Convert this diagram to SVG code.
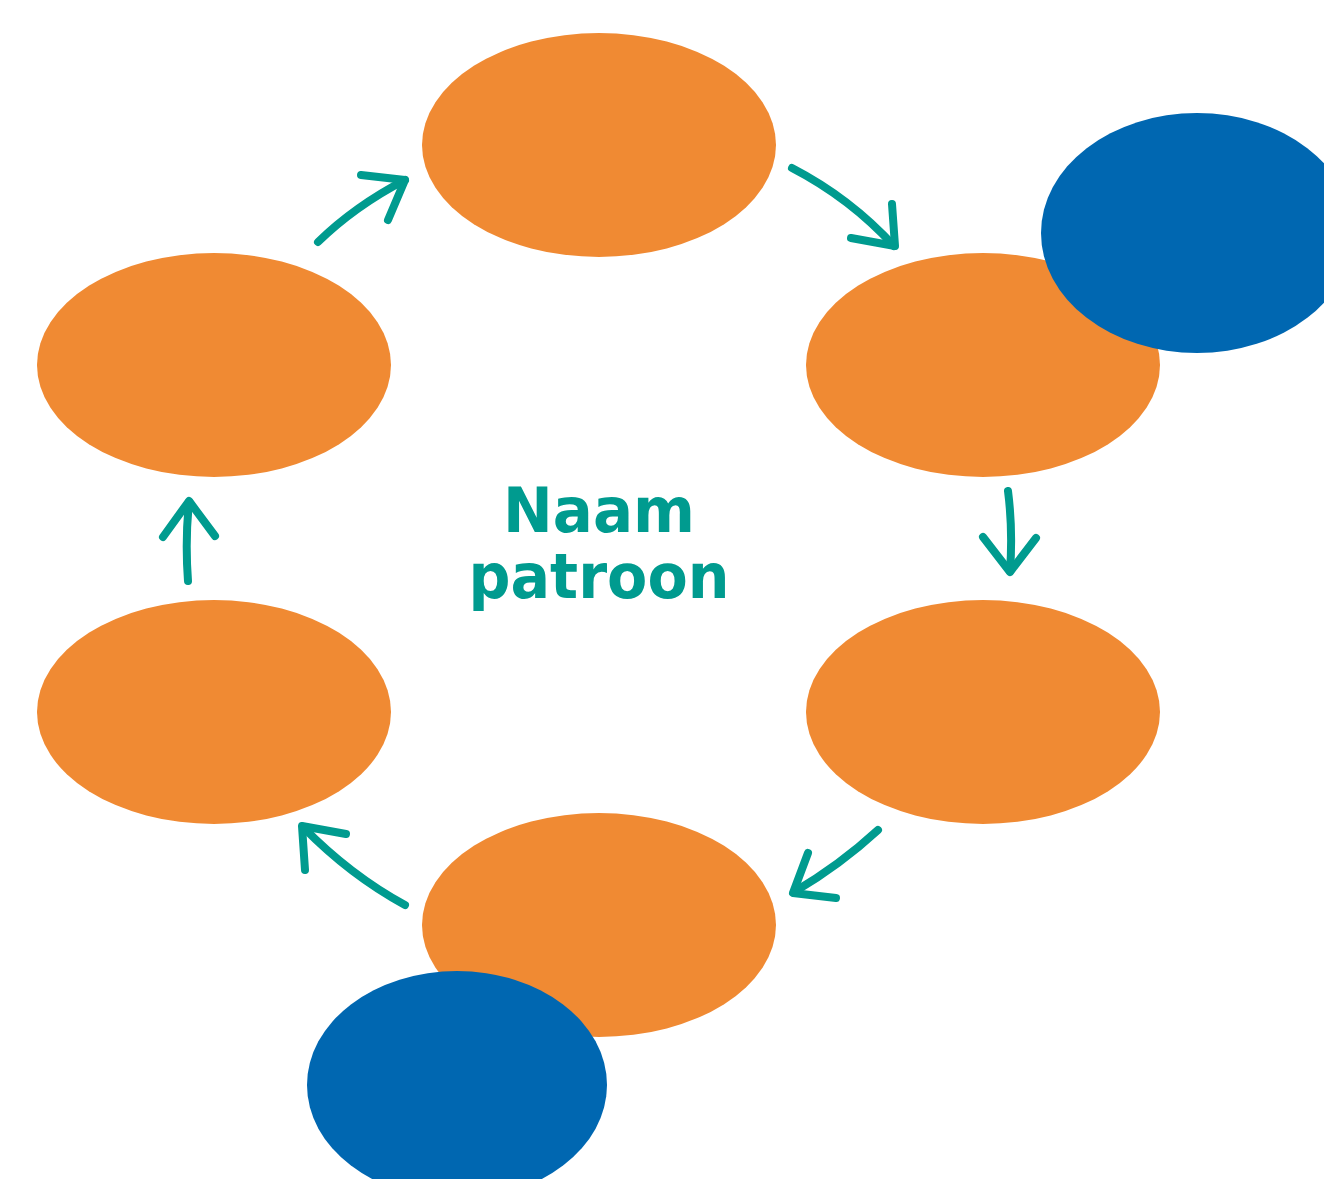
<svg xmlns="http://www.w3.org/2000/svg" width="1324" height="1179" viewBox="0 0 1324 1179">
<style>
.node{fill:#F08A33}
.blue{fill:#0067B1}
.arr{fill:none;stroke:#009B8F;stroke-width:8;stroke-linecap:round;stroke-linejoin:round}
.lbl{font-family:"DejaVu Sans","Liberation Sans",sans-serif;font-weight:bold;font-size:62px;fill:#009B8F;text-anchor:middle}
</style>
<rect width="1324" height="1179" fill="#FFFFFF"/>
<g id="node-top"><ellipse class="node" cx="599" cy="145" rx="177" ry="112"/></g>
<g id="node-right-upper"><ellipse class="node" cx="983" cy="365" rx="177" ry="112"/></g>
<g id="node-right-lower"><ellipse class="node" cx="983" cy="712" rx="177" ry="112"/></g>
<g id="node-bottom"><ellipse class="node" cx="599" cy="925" rx="177" ry="112"/></g>
<g id="node-left-lower"><ellipse class="node" cx="214" cy="712" rx="177" ry="112"/></g>
<g id="node-left-upper"><ellipse class="node" cx="214" cy="365" rx="177" ry="112"/></g>
<g id="blue-top-right"><ellipse class="blue" cx="1197" cy="233" rx="156" ry="120"/></g>
<g id="blue-bottom"><ellipse class="blue" cx="457" cy="1085" rx="150" ry="114"/></g>
<g id="connectors">
<path class="arr" d="M318,242 Q355,206 405,180"/>
<path class="arr" d="M361,175 L405,180 L388,220"/>
<path class="arr" d="M792,168 Q850,198 894,246"/>
<path class="arr" d="M892,204 L895,246 L851,238"/>
<path class="arr" d="M1008,491 Q1013,530 1010,571"/>
<path class="arr" d="M983,537 L1010,572 L1036,538"/>
<path class="arr" d="M878,830 Q840,865 794,892"/>
<path class="arr" d="M808,853 L793,893 L836,898"/>
<path class="arr" d="M405,905 Q350,875 303,827"/>
<path class="arr" d="M346,834 L302,826 L305,870"/>
<path class="arr" d="M188,581 Q185,540 189,502"/>
<path class="arr" d="M163,537 L189,501 L215,536"/>
</g>
<g id="label">
<text class="lbl" x="599" y="532" textLength="192" lengthAdjust="spacingAndGlyphs">Naam</text>
<text class="lbl" x="599" y="598" textLength="261" lengthAdjust="spacingAndGlyphs">patroon</text>
</g>
</svg>
